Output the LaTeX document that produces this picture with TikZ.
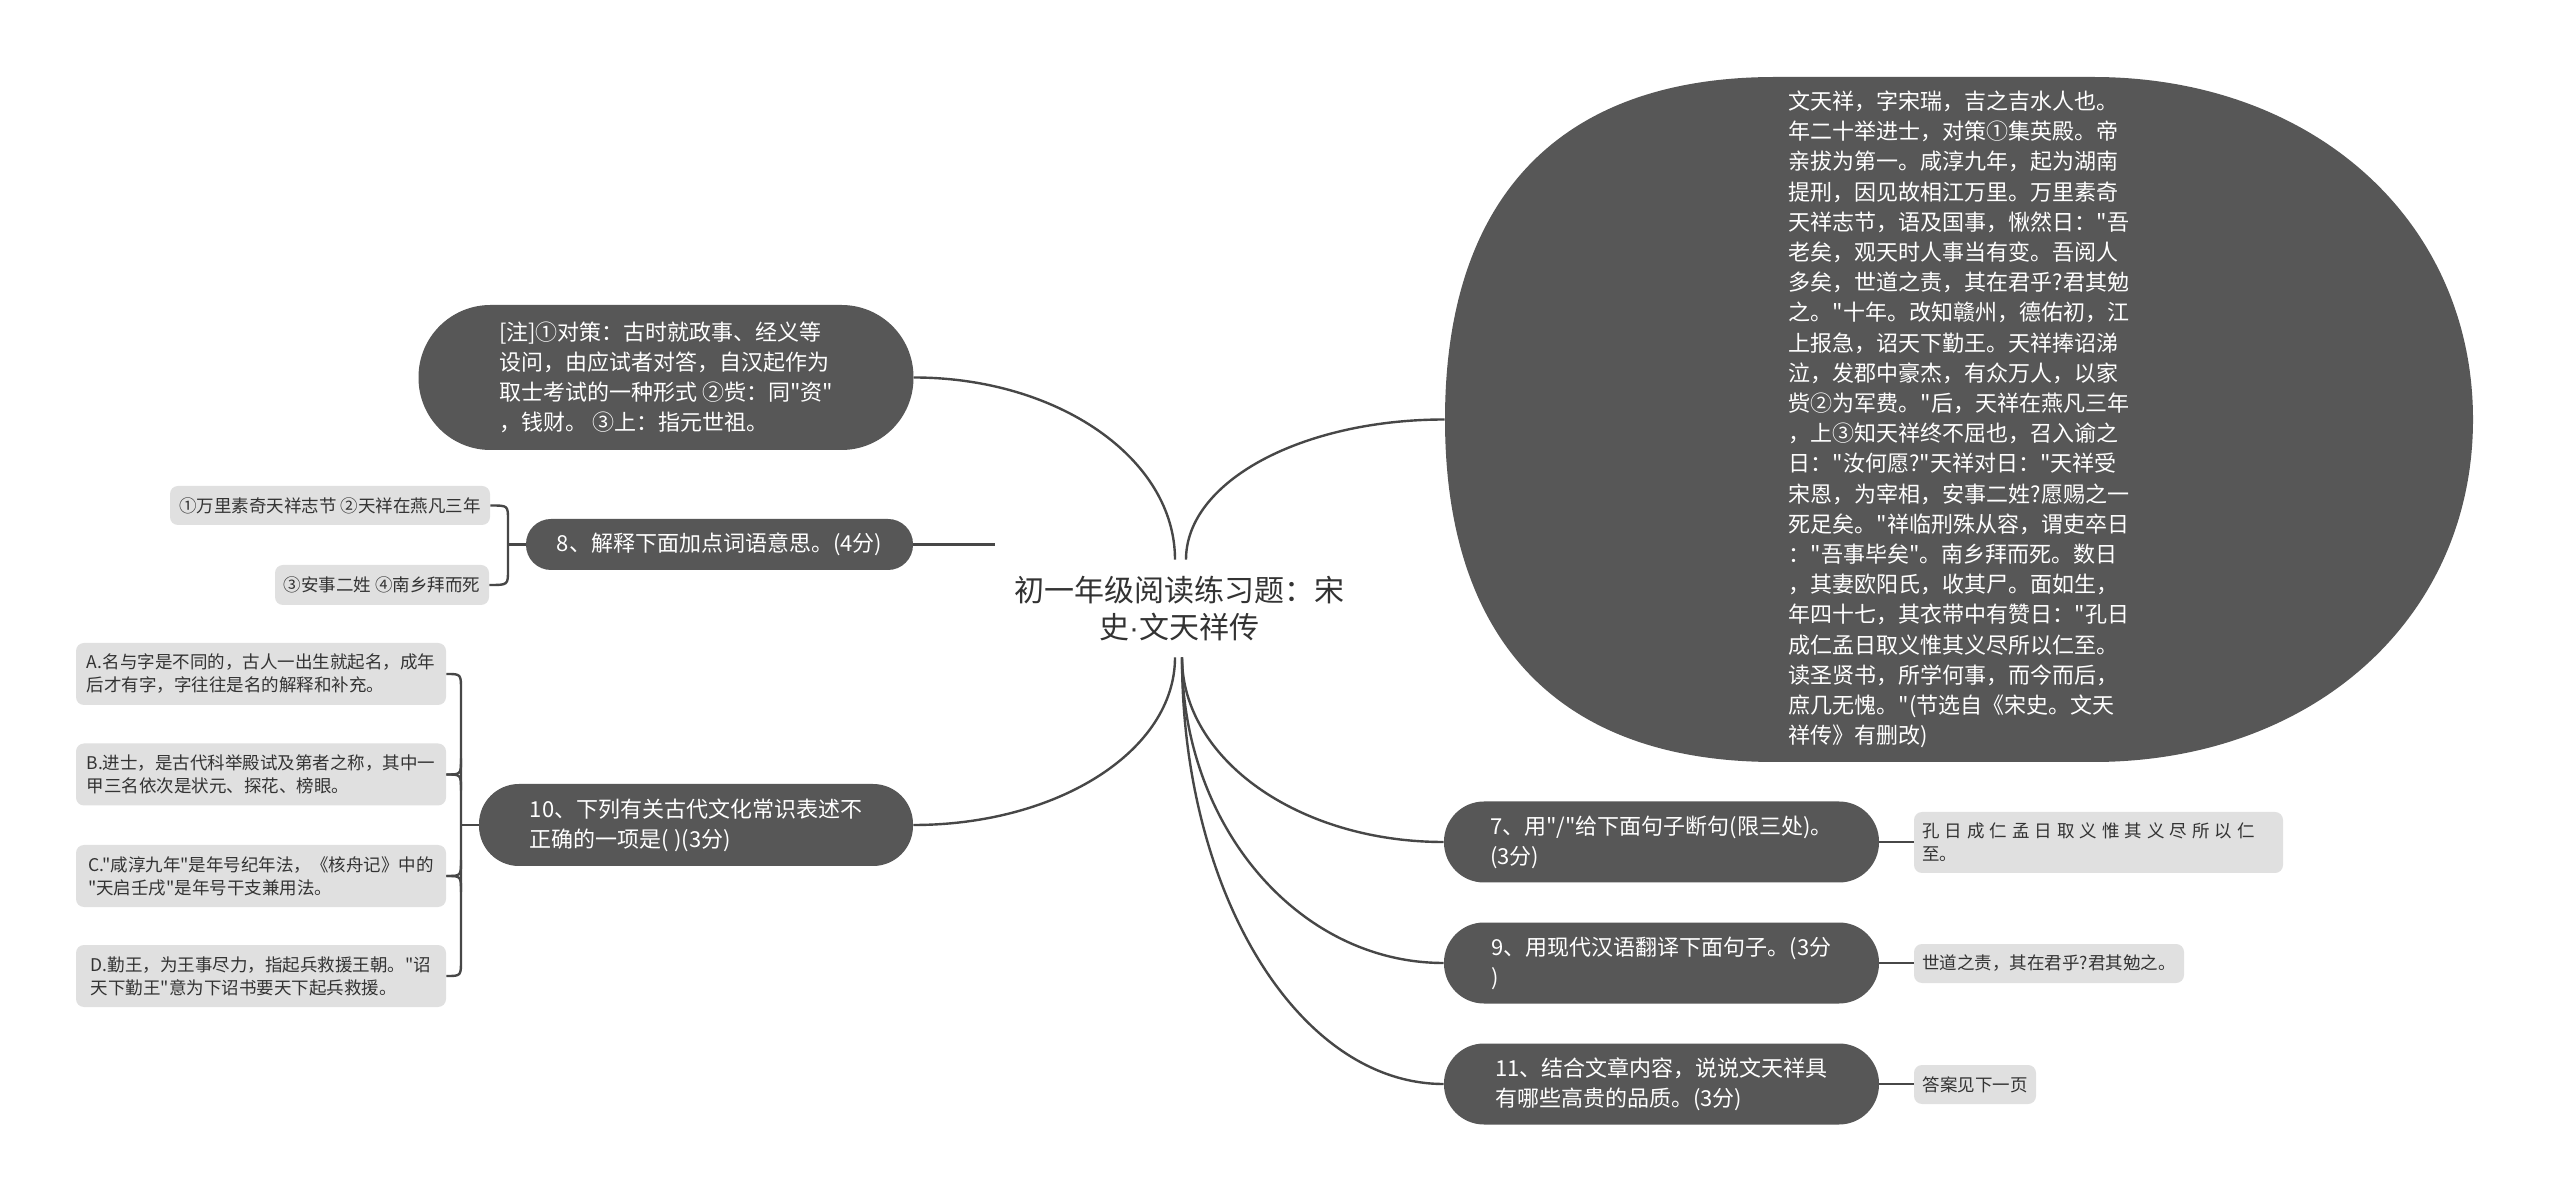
\documentclass[tikz,border=0pt]{standalone}
\usepackage{fontspec}
\newfontfamily\cjkfont{Noto Sans CJK SC}
\newfontfamily\dotfont{Liberation Sans}
\definecolor{nodefill}{HTML}{575757}
\definecolor{leaffill}{HTML}{E0E0E0}
\definecolor{linecol}{HTML}{474747}
\definecolor{leaftext}{HTML}{333333}
\newcommand{\ksp}{\hspace{2.5pt}}
\begin{document}
\begin{tikzpicture}[x=0.5pt,y=-0.5pt,
  darkbox/.style={fill=nodefill, text=white, align=left, inner sep=0pt, font=\cjkfont\fontsize{11pt}{15pt}\selectfont},
  leafbox/.style={fill=leaffill, text=leaftext, align=left, inner sep=0pt, rounded corners=4pt, font=\cjkfont\fontsize{8.75pt}{11.5pt}\selectfont},
  conn/.style={draw=linecol, line width=1.2pt}
]
\useasboundingbox (0,0) rectangle (2560,1202);
\fill[white] (0,0) rectangle (2560,1202);

% big story shape
\fill[nodefill] (1445,419.5) .. controls (1445,196.5) and (1560.5,77) .. (1775,77) -- (2093,77)
  .. controls (2313,77) and (2473,220.5) .. (2473,419.5)
  .. controls (2473,618.5) and (2313,762) .. (2093,762) -- (1775,762)
  .. controls (1560.5,762) and (1445,642.5) .. cycle;
\node[text=white, align=left, inner sep=0pt, minimum width=514pt, minimum height=342.5pt,
  font=\cjkfont\fontsize{11pt}{15.1pt}\selectfont] (story) at (1959,419.5) {文天祥，字宋瑞，吉之吉水人也。\\
年二十举进士，对策①集英殿。帝\\
亲拔为第一。咸淳九年，起为湖南\\
提刑，因见故相江万里。万里素奇\\
天祥志节，语及国事，愀然日："吾\\
老矣，观天时人事当有变。吾阅人\\
多矣，世道之责，其在君乎?君其勉\\
之。"十年。改知赣州，德佑初，江\\
上报急，诏天下勤王。天祥捧诏涕\\
泣，发郡中豪杰，有众万人，以家\\
赀②为军费。"后，天祥在燕凡三年\\
，上③知天祥终不屈也，召入谕之\\
日："汝何愿?"天祥对日："天祥受\\
宋恩，为宰相，安事二姓?愿赐之一\\
死足矣。"祥临刑殊从容，谓吏卒日\\
："吾事毕矣"。南乡拜而死。数日\\
，其妻欧阳氏，收其尸。面如生，\\
年四十七，其衣带中有赞日："孔日\\
成仁孟日取义惟其义尽所以仁至。\\
读圣贤书，所学何事，而今而后，\\
庶几无愧。"(节选自《宋史。文天\\
祥传》有删改)};

% center
\node[text=leaftext, align=center, inner sep=0pt, minimum height=48.5pt,
  font=\cjkfont\fontsize{15pt}{18.5pt}\selectfont] (center) at (1179,608.5) {初一年级阅读练习题：宋\\史{\dotfont ·}文天祥传};

% left side
\node[darkbox, minimum width=247.5pt, minimum height=72.5pt, rounded corners=36pt] (note) at (666,377.5) {[注]①对策：古时就政事、经义等\\设问，由应试者对答，自汉起作为\\取士考试的一种形式 ②赀：同"资"\\，钱财。 ③上：指元世祖。};
\node[darkbox, minimum width=193.5pt, minimum height=25.5pt, rounded corners=12.5pt] (q8) at (719.5,544.5) {8、解释下面加点词语意思。(4分)};
\node[darkbox, minimum width=217pt, minimum height=41pt, rounded corners=20pt] (q10) at (696,825) {10、下列有关古代文化常识表述不\\正确的一项是( )(3分)};

\node[leafbox, minimum width=160pt, minimum height=19.5pt] (l8a) at (330,505.5) {①万里素奇天祥志节 ②天祥在燕凡三年};
\node[leafbox, minimum width=107pt, minimum height=20pt] (l8b) at (382,585) {③安事二姓 ④南乡拜而死};

\node[leafbox, minimum width=185pt, minimum height=31pt] (la) at (261,674) {A.名与字是不同的，古人一出生就起名，成年\\后才有字，字往往是名的解释和补充。};
\node[leafbox, minimum width=185pt, minimum height=31pt] (lb) at (261,774.5) {B.进士，是古代科举殿试及第者之称，其中一\\甲三名依次是状元、探花、榜眼。};
\node[leafbox, minimum width=185pt, minimum height=31pt] (lc) at (261,876) {C."咸淳九年"是年号纪年法，《核舟记》中的\\"天启壬戌"是年号干支兼用法。};
\node[leafbox, minimum width=185pt, minimum height=31pt] (ld) at (261,976) {D.勤王，为王事尽力，指起兵救援王朝。"诏\\天下勤王"意为下诏书要天下起兵救援。};

% right side
\node[darkbox, minimum width=217.5pt, minimum height=40.5pt, rounded corners=20pt] (q7) at (1661.5,842) {7、用"/"给下面句子断句(限三处)。\\(3分)};
\node[darkbox, minimum width=217.5pt, minimum height=40.5pt, rounded corners=20pt] (q9) at (1661.5,963) {9、用现代汉语翻译下面句子。(3分\\)};
\node[darkbox, minimum width=217.5pt, minimum height=40.5pt, rounded corners=20pt] (q11) at (1661.5,1084) {11、结合文章内容，说说文天祥具\\有哪些高贵的品质。(3分)};

\node[leafbox, inner xsep=4pt, text width=176.5pt, minimum height=30.5pt] (r7) at (2098.5,842.5) {孔\ksp 日\ksp 成\ksp 仁\ksp 孟\ksp 日\ksp 取\ksp 义\ksp 惟\ksp 其\ksp 义\ksp 尽\ksp 所\ksp 以\ksp 仁\\至。};
\node[leafbox, minimum width=135pt, minimum height=19.5pt] (r9) at (2049,963.5) {世道之责，其在君乎?君其勉之。};
\node[leafbox, minimum width=61pt, minimum height=19.5pt] (r11) at (1975,1084.5) {答案见下一页};

% connectors from center
\draw[conn] ([xshift=-2pt]center.north) .. controls +(0,-101) and +(144,0) .. (note.east);
\draw[conn] ([xshift=3.5pt]center.north) .. controls +(0,-78) and +(-143,0) .. (story.west);
\coordinate (q8end) at (995,544.5);
\draw[conn] (q8.east) -- (q8end);
\draw[conn] ([xshift=-2pt]center.south) .. controls +(0,93) and +(145,0) .. (q10.east);
\draw[conn] ([xshift=1.5pt]center.south) .. controls +(0,102) and +(-145,0) .. (q7.west);
\draw[conn] ([xshift=1.5pt]center.south) .. controls +(0,169) and +(-145,0) .. (q9.west);
\draw[conn] ([xshift=1.5pt]center.south) .. controls +(0,236) and +(-145,0) .. (q11.west);

% right leaves
\draw[conn] (q7.east) -- (q7.east -| r7.west);
\draw[conn] (q9.east) -- (q9.east -| r9.west);
\draw[conn] (q11.east) -- (q11.east -| r11.west);

% bracket for 8
\coordinate (b8) at (508,544.5);
\draw[conn] (l8a.east) .. controls (508,505.5) .. (508,520) -- (508,570) .. controls (508,585) .. (l8b.east);
\draw[conn] (b8) -- (q8.west);

% bracket for 10
\coordinate (b10) at (461,825);
\draw[conn] (la.east) .. controls (461,674) .. (461,690) -- (461,960) .. controls (461,976) .. (ld.east);
\draw[conn] (lb.east) .. controls (461,774.5) .. (461,790.5);
\draw[conn] (lb.east) .. controls (461,774.5) .. (461,758.5);
\draw[conn] (lc.east) .. controls (461,876) .. (461,892);
\draw[conn] (lc.east) .. controls (461,876) .. (461,860);
\draw[conn] (b10) -- (q10.west);
\end{tikzpicture}
\end{document}
